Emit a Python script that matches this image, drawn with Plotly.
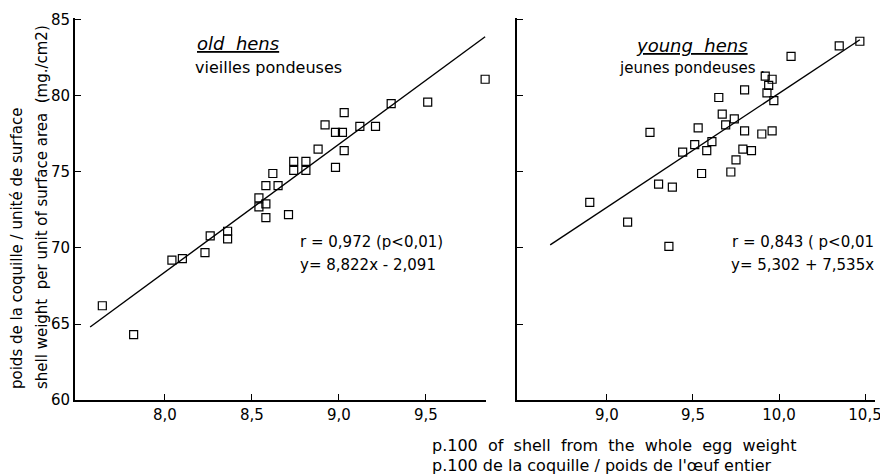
import plotly.graph_objects as go

# ---- data ----
old_x = [7.64, 7.82, 8.04, 8.10, 8.23, 8.26, 8.36, 8.36, 8.54, 8.54, 8.58, 8.58,
         8.58, 8.62, 8.65, 8.71, 8.74, 8.74, 8.81, 8.81, 8.88, 8.92, 8.98, 8.98,
         9.02, 9.03, 9.03, 9.12, 9.21, 9.30, 9.51, 9.84]
old_y = [66.2, 64.3, 69.2, 69.3, 69.7, 70.8, 71.1, 70.6, 73.3, 72.7, 72.9, 72.0,
         74.1, 74.9, 74.1, 72.2, 75.7, 75.1, 75.7, 75.1, 76.5, 78.1, 77.6, 75.3,
         77.6, 78.9, 76.4, 78.0, 78.0, 79.5, 79.6, 81.1]
old_line_x = [7.57, 9.84]
old_line_y = [64.8, 83.9]

young_x = [8.90, 9.12, 9.36, 9.30, 9.38, 9.25, 9.44, 9.51, 9.58, 9.61, 9.55, 9.53,
           9.65, 9.67, 9.69, 9.74, 9.80, 9.80, 9.79, 9.84, 9.75, 9.72, 9.90, 9.96,
           9.92, 9.96, 9.94, 9.93, 9.97, 10.07, 10.35, 10.47]
young_y = [73.0, 71.7, 70.1, 74.2, 74.0, 77.6, 76.3, 76.8, 76.4, 77.0, 74.9, 77.9,
           79.9, 78.8, 78.1, 78.5, 80.4, 77.7, 76.5, 76.4, 75.8, 75.0, 77.5, 77.7,
           81.3, 81.1, 80.7, 80.2, 79.7, 82.6, 83.3, 83.6]
young_line_x = [8.67, 10.47]
young_line_y = [70.2, 83.7]

y_ticks = [60, 65, 70, 75, 80, 85]
old_x_ticks = [8.0, 8.5, 9.0, 9.5]
old_x_labels = ["8,0", "8,5", "9,0", "9,5"]
young_x_ticks = [9.0, 9.5, 10.0, 10.5]
young_x_labels = ["9,0", "9,5", "10,0", "10,5"]

FONT = "DejaVu Sans"
marker = dict(symbol="square-open", size=8, color="black", line=dict(width=1.2, color="black"))

fig = go.Figure()
fig.add_trace(go.Scatter(x=old_x, y=old_y, mode="markers", marker=marker, cliponaxis=False,
                         xaxis="x", yaxis="y"))
fig.add_trace(go.Scatter(x=old_line_x, y=old_line_y, mode="lines",
                         line=dict(color="black", width=1.4), xaxis="x", yaxis="y"))
fig.add_trace(go.Scatter(x=young_x, y=young_y, mode="markers", marker=marker, cliponaxis=False,
                         xaxis="x2", yaxis="y2"))
fig.add_trace(go.Scatter(x=young_line_x, y=young_line_y, mode="lines",
                         line=dict(color="black", width=1.4), xaxis="x2", yaxis="y2"))

# page body has an 8px default margin: size the figure so it fits the window
OFF = 8
W, H = 888 - OFF, 475 - OFF
L, R, T, B = 75 - OFF, 13, 18 - OFF, H - (400 - OFF)
pw = W - L - R
ph = H - T - B

def px2paper(px):
    return (px - OFF - L) / pw

def py2paper(py):
    return (H - B - (py - OFF)) / ph

axis_common = dict(showgrid=False, zeroline=False, showline=True, linecolor="black",
                   linewidth=1.7, ticks="inside", ticklen=6, tickwidth=1.4, tickcolor="black",
                   tickfont=dict(family=FONT, size=15, color="black"), mirror=False)

fig.update_layout(
    width=W, height=H, margin=dict(l=L, r=R, t=T, b=B, autoexpand=False),
    plot_bgcolor="white", paper_bgcolor="white", showlegend=False,
    xaxis=dict(domain=[0, px2paper(486)], range=[7.483, 9.845], tickvals=old_x_ticks,
               ticktext=old_x_labels, anchor="y", **axis_common),
    yaxis=dict(domain=[0, 1], range=[60, 85.13], tickvals=y_ticks, anchor="x", **axis_common),
    xaxis2=dict(domain=[px2paper(517), 1], range=[8.477, 10.558], tickvals=young_x_ticks,
                ticktext=young_x_labels, anchor="y2", **axis_common),
    yaxis2=dict(domain=[0, 1], range=[60, 85.13], tickvals=y_ticks, anchor="x2",
                showticklabels=False, **axis_common),
)

def ann(text, px, py, size=15, xanchor="left", angle=0):
    fig.add_annotation(text=text, xref="paper", yref="paper", x=px2paper(px), y=py2paper(py),
                       xanchor=xanchor, yanchor="middle", showarrow=False, textangle=angle,
                       font=dict(family=FONT, size=size, color="black"))

ann("<i><u>old  hens</u></i>", 238, 43, size=18, xanchor="center")
ann("vieilles pondeuses", 193, 67, size=16)
ann("<i><u>young  hens</u></i>", 692, 45, size=18, xanchor="center")
ann("jeunes pondeuses .", 617, 68, size=15)
ann("r = 0,972 (p<0,01)", 298, 242, size=15)
ann("y= 8,822x - 2,091", 298, 265, size=15)
ann("r = 0,843 ( p<0,01", 730, 242, size=15)
ann("y= 5,302 + 7,535x", 729, 265, size=15)
ann("poids de la coquille / unité de surface", 17, 249, size=15, xanchor="center", angle=-90)
ann("shell weight  per unit of surface area  (mg./cm2)", 42, 207, size=15, xanchor="center", angle=-90)
ann("p.100  of  shell  from  the  whole  egg  weight", 430, 445, size=16)
ann("p.100 de la coquille / poids de l'œuf entier", 430, 465, size=16)

fig.write_html("out.html")
